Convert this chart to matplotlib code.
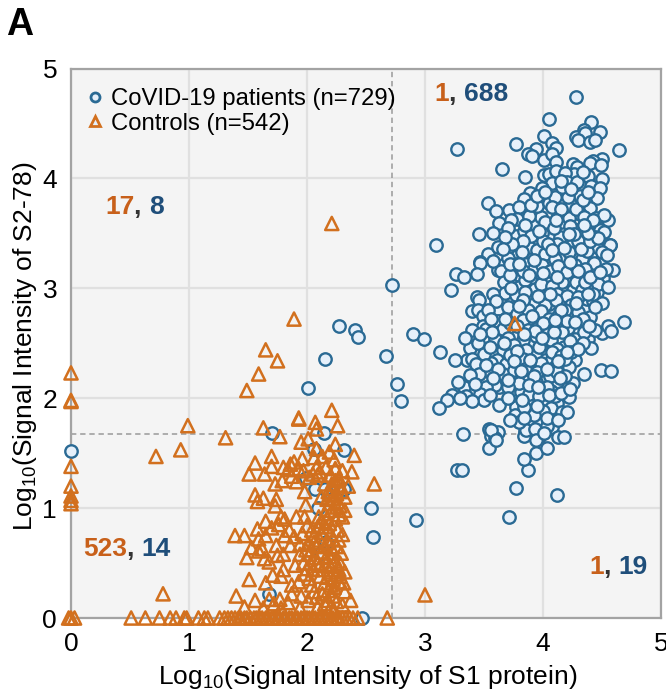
import matplotlib
matplotlib.use("Agg")
import matplotlib.pyplot as plt
from matplotlib.lines import Line2D

plt.rcParams["font.family"] = ["Liberation Sans", "DejaVu Sans"]
plt.rcParams["mathtext.default"] = "regular"

# (log10 S1, log10 S2-78)
patients = [
    (4.28,4.74),(4.05,4.54),(3.27,4.27),(3.77,4.31),(4.01,4.39),(4.08,4.32),(4.11,4.28),(3.94,4.27),
    (3.87,4.22),(3.91,4.20),(4.01,4.17),(4.08,4.22),(4.11,4.15),(3.65,4.09),(3.85,4.01),(4.01,4.03),
    (4.05,4.04),(4.11,4.07),(4.41,4.51),(4.35,4.44),(4.48,4.42),(4.28,4.38),(4.36,4.41),(4.30,4.35),
    (4.40,4.33),(4.44,4.35),(4.64,4.26),(4.50,4.18),(4.42,4.16),(4.40,4.14),(4.49,4.12),(4.25,4.13),
    (4.29,4.10),(4.26,4.04),(4.19,4.05),(4.38,4.02),(4.50,3.99),(4.41,3.93),(4.48,3.91),(4.20,3.97),
    (4.29,3.97),(4.08,3.96),(3.99,3.91),(3.89,3.87),(3.84,3.81),(3.53,3.78),(3.60,3.70),(3.63,3.59),
    (3.71,3.71),(3.80,3.74),(3.78,3.63),(3.73,3.62),(3.46,3.49),(3.77,3.48),(3.84,3.52),(3.94,3.58),
    (3.98,3.65),(3.88,3.66),(3.95,3.75),(4.05,3.78),(3.90,3.76),(4.13,3.66),(4.24,3.76),(4.31,3.84),
    (4.21,3.83),(4.46,3.82),(4.40,3.73),(4.45,3.64),(4.55,3.62),(4.52,3.67),(4.17,3.55),(4.29,3.53),
    (4.06,3.48),(4.19,3.45),(3.94,3.43),(3.88,3.38),(4.07,3.37),(4.34,3.50),(4.41,3.55),(4.48,3.53),
    (4.52,3.51),(4.57,3.39),(4.46,3.39),(4.25,3.41),(3.78,3.29),(3.53,3.31),(3.47,3.24),(3.98,3.29),
    (4.16,3.29),(4.28,3.29),(4.41,3.29),(4.10,3.83),(4.08,3.74),(4.31,3.68),(3.99,3.50),(4.14,3.47),
    (4.36,3.41),(3.09,3.39),(3.47,3.23),(3.26,3.13),(3.33,3.10),(3.44,3.13),(3.22,2.98),(3.62,3.17),
    (3.66,3.21),(3.64,3.16),(3.77,3.22),(3.67,3.06),(3.80,3.12),(3.80,3.01),(3.90,3.07),(4.02,3.09),
    (4.16,3.06),(4.25,2.98),(4.00,2.96),(3.88,2.88),(3.74,2.88),(3.44,2.92),(3.46,2.89),(3.82,2.81),
    (3.62,2.81),(3.40,2.79),(3.45,2.80),(3.49,2.75),(3.62,2.70),(3.49,2.66),(3.52,2.63),(3.40,2.62),
    (3.71,2.76),(3.95,2.72),(3.89,2.69),(3.76,2.60),(3.77,2.56),(4.02,2.59),(3.90,2.50),(4.09,2.78),
    (4.17,2.87),(4.05,2.86),(4.35,2.81),(4.37,2.90),(4.40,3.01),(4.51,3.09),(4.59,3.17),(4.43,3.17),
    (4.38,3.22),(4.46,3.38),(4.57,3.39),(4.24,2.73),(4.29,2.62),(4.21,2.64),(4.27,2.54),(4.18,2.47),
    (4.38,2.54),(4.41,2.46),(4.50,2.59),(4.55,2.66),(4.58,2.61),(4.69,2.69),(2.90,2.58),(2.99,2.54),
    (3.13,2.42),(3.38,2.46),(3.59,2.54),(3.66,2.44),(3.36,2.35),(3.40,2.36),(3.43,2.31),(3.61,2.35),
    (3.56,2.32),(3.69,2.31),(3.78,2.30),(3.54,2.25),(3.46,2.22),(3.38,2.21),(3.91,2.28),(4.02,2.42),
    (4.02,2.35),(4.08,2.36),(3.93,2.39),(4.27,2.35),(4.18,2.30),(4.22,2.28),(4.35,2.22),(4.49,2.26),
    (4.58,2.25),(3.78,2.20),(3.85,2.19),(3.99,2.21),(4.00,2.15),(3.85,2.10),(3.91,2.10),(4.16,2.12),
    (4.25,2.14),(4.12,2.15),(4.07,2.07),(4.22,2.01),(4.03,1.98),(3.91,1.98),(4.12,1.96),(4.07,1.91),
    (4.16,1.87),(4.20,1.87),(3.74,2.05),(3.81,2.06),(3.63,2.10),(3.59,2.12),(3.52,2.10),(3.47,2.04),
    (3.63,1.94),(3.33,2.10),(3.23,2.03),(3.19,1.98),(3.12,1.91),(3.35,2.02),(2.80,1.97),(2.76,2.13),
    (3.77,1.92),(3.76,1.85),(3.89,1.80),(3.97,1.81),(4.04,1.72),(4.08,1.74),(3.85,1.70),(3.54,1.72),
    (3.56,1.66),(3.62,1.69),(3.32,1.67),(3.97,1.65),(4.13,1.65),(3.27,1.35),(3.31,1.35),(3.77,1.18),
    (3.71,0.92),(4.12,1.12),(3.87,1.35),(3.94,1.50),(3.84,1.45),(4.03,1.55),(3.84,1.66),(3.86,1.71),
    (4.18,1.65),(3.54,1.55),(3.59,1.64),(3.56,1.71),(3.60,1.62),(4.03,1.75),
    # low and middle ones
    (0.00,1.52),(1.70,1.68),(2.14,1.68),(2.06,1.54),(2.31,1.53),(1.99,1.27),(2.07,1.17),(2.15,1.17),
    (2.31,1.17),(2.09,1.00),(2.54,1.00),(2.56,0.74),(1.68,0.22),(2.47,0.00),(2.92,0.89),(2.16,0.69),
    (2.12,0.59),(2.27,2.66),(2.41,2.62),(2.43,2.56),(2.15,2.36),(2.01,2.09),(2.67,2.38),(2.72,3.03),
    # dense middle of the patient cloud
    (3.95,3.35),(4.02,3.31),(4.10,3.27),(4.22,3.33),(4.33,3.27),(4.48,3.24),(4.37,3.34),(3.86,3.22),
    (3.92,3.18),(3.99,3.21),(4.06,3.16),(4.13,3.20),(4.20,3.15),(4.27,3.21),(4.34,3.12),(4.45,3.10),
    (3.72,3.12),(3.85,3.08),(3.93,2.99),(3.98,3.04),(4.08,3.02),(4.12,2.95),(4.20,2.93),(4.28,3.06),
    (4.33,2.98),(4.46,2.97),(3.68,2.96),(3.77,2.94),(3.85,2.97),(3.93,2.87),(4.02,2.85),(4.11,2.89),
    (4.24,2.85),(4.30,2.92),(4.42,2.88),(3.70,2.83),(3.78,2.77),(3.87,2.80),(3.98,2.79),(4.05,2.72),
    (4.13,2.75),(4.19,2.80),(4.30,2.78),(4.40,2.74),(3.66,2.63),(3.72,2.68),(3.83,2.71),(3.87,2.62),
    (3.95,2.64),(4.00,2.68),(4.11,2.66),(4.16,2.60),(4.33,2.68),(3.70,2.55),(3.83,2.53),(3.94,2.57),
    (4.07,2.53),(4.12,2.45),(4.23,2.52),(3.75,2.48),(3.86,2.44),(3.97,2.47),(4.08,2.42),(4.15,2.38),
    (4.24,2.42),(3.72,2.39),(3.83,2.36),(3.98,2.32),(4.10,2.28),(3.85,2.27),(3.95,2.24),(4.06,2.20),
    (4.12,2.24),(3.80,2.14),(3.94,2.15),(4.03,2.10),(4.19,2.20),(3.70,2.10),(3.88,2.04),(3.97,2.02),
    (4.10,2.02),(3.84,1.92),(4.00,1.88),(3.92,1.85),(4.03,1.82),(4.13,1.80),(3.80,1.78),(3.93,1.72),
    (4.15,3.60),(4.22,3.64),(4.28,3.72),(4.35,3.65),(4.02,3.60),(4.09,3.55),(4.23,3.57),(3.90,3.48),
    (3.83,3.43),(4.00,3.43),(4.12,3.40),(4.30,3.43),(4.37,3.57),(4.44,3.47),(4.15,3.72),(3.95,3.84),
    (4.02,3.88),(4.16,3.92),(4.24,3.90),(4.34,3.80),(4.38,3.88),(4.15,3.98),(4.34,4.06),(3.70,3.55),
    (3.82,3.33),(3.74,3.40),(3.68,3.47),(3.62,3.38),(3.58,3.25),(3.70,3.28),
    (3.58,3.50),(3.66,3.36),(3.72,3.22),(3.83,3.16),(3.92,3.26),(4.04,3.40),(4.12,3.10),(4.18,3.37),
    (4.26,3.49),(4.32,3.36),(4.40,3.43),(4.50,3.33),(4.53,3.18),(4.47,3.04),(4.55,3.01),(4.36,3.06),
    (4.42,2.95),(4.50,2.87),(4.28,2.87),(4.06,2.95),(3.96,2.93),(3.83,2.89),(3.73,3.00),(3.58,2.95),
    (3.60,2.88),(3.53,2.80),(3.56,2.72),(3.68,2.72),(3.78,2.66),(3.80,2.84),(3.91,2.75),(4.09,2.60),
    (4.20,2.70),(4.35,2.60),(4.44,2.62),(4.34,2.50),(4.30,2.45),(4.19,2.36),(3.89,2.35),(3.78,2.43),
    (3.66,2.22),(3.75,2.26),(3.92,2.20),(3.88,2.12),(3.96,2.10),(3.70,2.00),(3.82,1.98),(3.95,1.93),
    (4.05,2.03),(4.15,2.05),(4.23,2.08),(3.72,1.80),(3.84,1.82),(3.94,1.62),(4.01,1.68),(3.50,1.98),
    (3.55,2.03),(3.42,2.13),(3.40,1.97),(3.30,2.00),(3.28,2.15),(3.25,2.35),(3.34,2.55),(3.45,2.50),
    (3.50,2.40),(3.55,2.47),(3.57,2.60),(3.47,2.58),
    (4.42,3.62),(4.47,3.46),(4.38,3.50),(4.54,3.30),(4.43,3.23),(4.36,3.18),(4.30,3.16),(4.23,3.24),
    (4.40,3.10),(4.48,3.15),(4.38,2.95),(4.44,2.83),(4.34,2.72),(4.27,2.69),(4.39,2.66),(4.15,2.80),
    (4.10,2.71),(3.93,2.61),(3.84,2.58),(3.67,2.50),(3.75,2.34),(3.62,2.27),(3.70,2.17),(3.58,2.18),
    (3.52,2.30),(3.81,2.25),(4.03,2.27),(4.14,2.18),(4.20,2.42),(4.13,2.34),(3.99,2.55),(3.88,3.12),
    (3.80,3.22),(4.00,3.14),(4.08,3.35),(3.97,3.52),(4.22,3.49),(4.11,3.62),(3.85,3.58),(4.35,3.58),
]

controls = [
    (2.21,3.59),(3.76,2.68),(3.00,0.21),(1.89,2.72),(1.65,2.44),(1.75,2.34),(1.59,2.22),(1.49,2.07),
    (2.21,1.89),(1.93,1.82),(1.93,1.81),(2.07,1.78),(2.26,1.75),(2.08,1.72),(1.63,1.73),(1.77,1.65),
    (1.31,1.64),(1.95,1.60),(2.01,1.63),(2.24,1.58),(2.08,1.54),(0.99,1.75),(0.93,1.53),(0.72,1.47),
    (0.00,2.23),(0.00,1.98),(0.00,1.97),(0.00,1.38),(0.00,1.20),(0.00,1.11),(0.00,1.07),(0.00,1.04),
    (0.78,0.22),(2.40,1.48),(2.19,1.51),(2.06,1.46),(2.13,1.47),(2.23,1.44),(1.70,1.47),(1.56,1.41),
    (1.51,1.31),(1.64,1.31),(1.70,1.38),(1.73,1.22),(1.80,1.37),(1.89,1.42),(1.96,1.45),(1.84,1.35),
    (1.79,1.25),(1.87,1.29),(1.91,1.24),(1.98,1.15),(2.08,1.37),(2.09,1.30),(2.05,1.31),(2.24,1.36),
    (2.30,1.34),(2.38,1.33),(2.24,1.25),(2.35,1.20),(2.57,1.22),(2.18,1.15),(2.25,1.13),(2.32,1.10),
    (1.56,1.12),(1.63,1.09),(1.58,1.06),(1.74,1.08),(1.73,1.02),(1.99,1.03),(2.19,1.12),(2.19,1.04),
    (2.25,1.01),(2.32,0.98),(2.15,0.95),(2.30,0.92),(1.91,0.92),(1.98,0.92),(1.78,0.92),(1.76,0.85),
    (1.65,0.88),(1.58,0.81),(1.39,0.75),(1.47,0.75),(1.65,0.75),(1.59,0.72),(1.85,0.80),(1.81,0.75),
    (2.00,0.84),(1.96,0.77),(2.06,0.75),(2.16,0.83),(2.20,0.77),(2.30,0.76),(1.74,0.66),(1.86,0.66),
    (1.53,0.64),(1.59,0.61),(1.49,0.55),(1.64,0.54),(1.75,0.57),(1.68,0.51),(1.94,0.67),(2.01,0.68),
    (2.11,0.71),(2.18,0.69),(2.25,0.65),(2.29,0.59),(2.23,0.59),(1.94,0.58),(2.02,0.58),(2.12,0.60),
    (1.97,0.50),(2.09,0.50),(2.16,0.49),(2.20,0.47),(1.80,0.44),(1.71,0.39),(1.51,0.35),(1.65,0.32),
    (1.78,0.38),(1.87,0.30),(1.93,0.33),(2.32,0.42),(2.28,0.38),(2.31,0.32),(2.22,0.35),(2.02,0.36),
    (2.11,0.38),(2.18,0.25),(2.06,0.24),(2.23,0.28),(2.32,0.24),(2.37,0.16),(1.40,0.20),(1.56,0.16),
    (1.68,0.17),(1.77,0.17),(1.87,0.22),(2.01,0.16),(2.08,0.19),(2.18,0.16),(2.25,0.15),(1.47,0.10),
    (1.63,0.09),(1.78,0.09),(1.94,0.09),(2.09,0.10),(2.23,0.07),
    # thick column around x=2.2
    (2.20,1.30),(2.27,1.27),(2.15,1.22),(2.22,1.18),(2.29,1.15),(2.17,1.08),(2.26,1.06),(2.21,0.98),
    (2.13,0.88),(2.24,0.90),(2.19,0.86),(2.12,0.78),(2.26,0.80),(2.15,0.65),(2.21,0.63),(2.08,0.66),
    (2.04,0.62),(2.16,0.55),(2.24,0.52),(2.13,0.44),(2.19,0.42),(2.25,0.40),(2.15,0.32),(2.20,0.30),
    (2.27,0.33),(2.13,0.22),(2.22,0.20),(2.05,0.44),(2.00,0.45),(1.90,0.48),
    (1.97,1.34),(2.02,1.28),(1.93,1.36),(1.86,1.40),(2.11,1.33),(2.16,1.37),(2.21,1.22),(2.28,1.21),
    (2.12,1.10),(2.23,1.09),(2.28,1.02),(2.27,0.94),(2.17,0.91),(2.09,0.83),(2.04,0.80),(2.10,0.92),
    (2.22,0.72),(2.27,0.71),(2.06,0.69),(1.99,0.62),(2.07,0.55),(2.19,0.56),(2.28,0.50),(2.03,0.50),
    (2.11,0.48),(2.17,0.37),(2.27,0.44),(1.98,0.40),(2.04,0.30),(2.15,0.13),(2.20,0.10),(2.30,0.12),
    (1.84,0.14),(1.72,0.13),(1.95,0.20),(1.80,0.58),(1.89,0.74),(1.70,0.82),(1.62,0.63),(1.81,0.90),
    # along the bottom edge
    (0.00,0.00),(-0.02,0.00),(0.03,0.00),(0.51,0.00),(0.63,0.00),(0.75,0.00),(0.84,0.00),(0.89,0.00),
    (0.96,0.00),(0.98,0.00),(1.08,0.00),(1.13,0.00),(1.16,0.00),(1.26,0.00),(1.30,0.00),(1.33,0.00),
    (1.36,0.00),(1.39,0.00),(1.42,0.00),(1.44,0.00),(1.47,0.00),(1.49,0.00),(1.52,0.00),(1.55,0.00),
    (1.57,0.00),(1.60,0.00),(1.62,0.00),(1.65,0.00),(1.67,0.00),(1.70,0.00),(1.72,0.00),(1.75,0.00),
    (1.77,0.00),(1.80,0.00),(1.82,0.00),(1.85,0.00),(1.87,0.00),(1.90,0.00),(1.92,0.00),(1.95,0.00),
    (1.97,0.00),(2.00,0.00),(2.02,0.00),(2.05,0.00),(2.07,0.00),(2.10,0.00),(2.12,0.00),(2.15,0.00),
    (2.17,0.00),(2.20,0.00),(2.22,0.00),(2.25,0.00),(2.27,0.00),(2.30,0.00),(2.33,0.00),(2.36,0.00),
    (2.39,0.00),(2.43,0.00),(2.68,0.00),
]

patient_s1, patient_s278 = zip(*patients)
control_s1, control_s278 = zip(*controls)

cutoff_s1 = 2.72
cutoff_s278 = 1.67
ticks = [0, 1, 2, 3, 4, 5]

blue = "#2a6a94"
orange = "#d2701e"
count_orange = "#c8601a"
count_blue = "#1f4e7a"

fig = plt.figure(figsize=(6.66, 6.99), dpi=100)
ax = fig.add_axes([71 / 666, 1 - 618 / 699, 590 / 666, 549.5 / 699])
ax.set_facecolor("#f4f4f4")
ax.set_xlim(0, 5)
ax.set_ylim(0, 5)
ax.set_xticks(ticks)
ax.set_yticks(ticks)
ax.grid(color="#e0e0e0", lw=1.6)
ax.set_axisbelow(True)
ax.tick_params(length=0, labelsize=19, pad=10)
for s in ax.spines.values():
    s.set_color("#a3a3a3")
    s.set_linewidth(1.6)

ax.axvline(cutoff_s1, color="#999999", lw=1.1, ls=(0, (3.5, 2.5)), zorder=1.5)
ax.axhline(cutoff_s278, color="#999999", lw=1.1, ls=(0, (3.5, 2.5)), zorder=1.5)

ax.scatter(patient_s1, patient_s278, s=80, marker="o", facecolor="#e6f0fa", edgecolor=blue, lw=1.7, zorder=3, clip_on=False)
ax.scatter(control_s1, control_s278, s=90, marker="^", facecolor="none", edgecolor=orange, lw=1.8, zorder=4, clip_on=False)

ax.set_xlabel("Log$_{10}$(Signal Intensity of S1 protein)", fontsize=19)
ax.set_ylabel("Log$_{10}$(Signal Intensity of S2-78)", fontsize=19)
ax.xaxis.set_label_coords(0.503, -0.082)
ax.yaxis.set_label_coords(-0.055, 0.495)

handles = [
    Line2D([], [], ls="none", marker="o", ms=6.5, mfc="#e6f0fa", mec=blue, mew=2),
    Line2D([], [], ls="none", marker="^", ms=7.5, mfc="#e6f0fa", mec=orange, mew=2),
]
ax.legend(handles, ["CoVID-19 patients (n=729)", "Controls (n=542)"], loc="upper left",
          bbox_to_anchor=(-0.022, 1.003), frameon=False, fontsize=17.2, labelspacing=0.1,
          handletextpad=0.0, handlelength=1.3, borderpad=0.4).set_zorder(5)


def counts(x, y, left, right):
    # coloured numbers with a dark comma between them
    t1 = ax.text(x, y, left, color=count_orange, fontsize=19, fontweight="bold", zorder=6)
    t2 = ax.annotate(", ", xy=(1, 0), xycoords=t1, va="bottom", color="#333333", fontsize=19, fontweight="bold", zorder=6)
    ax.annotate(right, xy=(1, 0), xycoords=t2, va="bottom", color=count_blue, fontsize=19, fontweight="bold", zorder=6)


counts(3.08, 4.70, "1", "688")
counts(0.29, 3.68, "17", "8")
counts(0.10, 0.56, "523", "14")
counts(4.39, 0.40, "1", "19")

fig.text(6 / 666, 1 - 35 / 699, "A", fontsize=27, fontweight="bold")

fig.savefig("out.png", dpi=100)
